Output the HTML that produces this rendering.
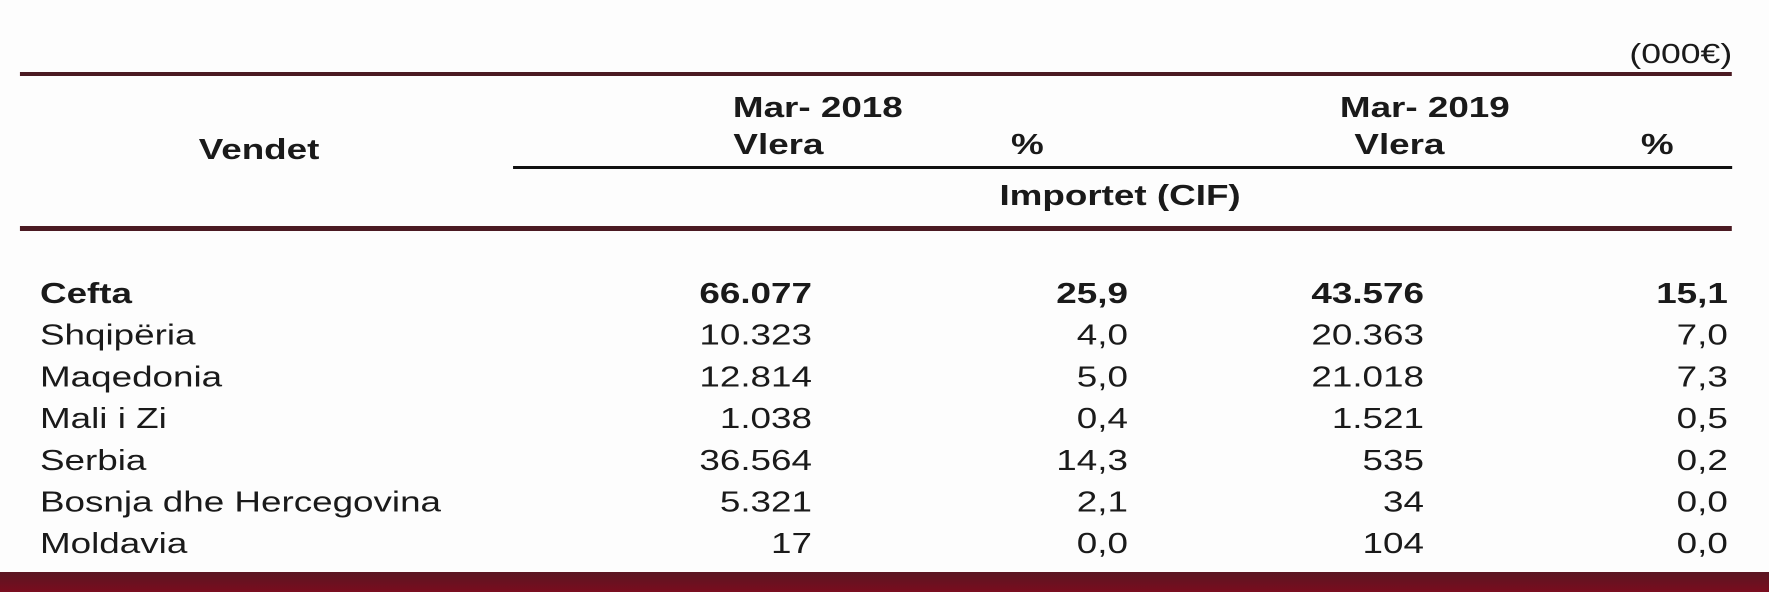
<!DOCTYPE html>
<html>
<head>
<meta charset="utf-8">
<style>
  html,body{margin:0;padding:0;background:#fdfdfd;}
  body{width:1769px;height:600px;overflow:hidden;}
  svg{display:block;}
  text{font-family:"Liberation Sans",Arial,sans-serif;fill:#1a1a1a;}
  .b{font-weight:bold;}
</style>
</head>
<body>
<svg id="tbl" width="1769" height="600" viewBox="0 0 1393 600" preserveAspectRatio="none" xmlns="http://www.w3.org/2000/svg">
  <defs>
    <linearGradient id="barg" x1="0" y1="0" x2="0" y2="1">
      <stop offset="0" stop-color="#5a1622"/>
      <stop offset="1" stop-color="#7a0c1e"/>
    </linearGradient>
  </defs>
  <text x="1364" y="63" font-size="28" text-anchor="end">(000€)</text>
  <rect x="15.7" y="72" width="1348" height="4" fill="#4b1a22"/>
  <text class="b" x="204" y="159" font-size="29" text-anchor="middle">Vendet</text>
  <text class="b" x="644" y="117" font-size="29" text-anchor="middle">Mar- 2018</text>
  <text class="b" x="613" y="154" font-size="29" text-anchor="middle">Vlera</text>
  <text class="b" x="809" y="154" font-size="29" text-anchor="middle">%</text>
  <text class="b" x="1122" y="117" font-size="29" text-anchor="middle">Mar- 2019</text>
  <text class="b" x="1102" y="154" font-size="29" text-anchor="middle">Vlera</text>
  <text class="b" x="1305" y="154" font-size="29" text-anchor="middle">%</text>
  <rect x="404" y="166" width="960" height="3" fill="#111"/>
  <text class="b" x="882" y="205" font-size="29" text-anchor="middle">Importet (CIF)</text>
  <rect x="15.7" y="226" width="1348" height="5" fill="#4b1a22"/>
  <g id="rows"></g>
  <rect x="0" y="572" width="1393" height="20" fill="url(#barg)"/>
</svg>
<script>
const countries = ["Cefta","Shqipëria","Maqedonia","Mali i Zi","Serbia","Bosnja dhe Hercegovina","Moldavia"];
const value2018 = ["66.077","10.323","12.814","1.038","36.564","5.321","17"];
const pct2018 = ["25,9","4,0","5,0","0,4","14,3","2,1","0,0"];
const value2019 = ["43.576","20.363","21.018","1.521","535","34","104"];
const pct2019 = ["15,1","7,0","7,3","0,5","0,2","0,0","0,0"];

const NS = "http://www.w3.org/2000/svg";
const g = document.getElementById("rows");
const rowY = i => 303 + i * 41.7;
const cols = [
  {x: 31.5, anchor: "start", src: countries, name: "country"},
  {x: 639.4, anchor: "end", src: value2018, name: "value-2018"},
  {x: 888.2, anchor: "end", src: pct2018, name: "pct-2018"},
  {x: 1121.3, anchor: "end", src: value2019, name: "value-2019"},
  {x: 1360.6, anchor: "end", src: pct2019, name: "pct-2019"}
];
countries.forEach((c, i) => {
  cols.forEach(col => {
    const t = document.createElementNS(NS, "text");
    t.setAttribute("x", col.x);
    t.setAttribute("y", rowY(i));
    t.setAttribute("font-size", "29");
    t.setAttribute("text-anchor", col.anchor);
    if (i === 0) t.setAttribute("class", "b");
    t.textContent = col.src[i];
    
    
    g.appendChild(t);
  });
});
</script>
</body>
</html>
